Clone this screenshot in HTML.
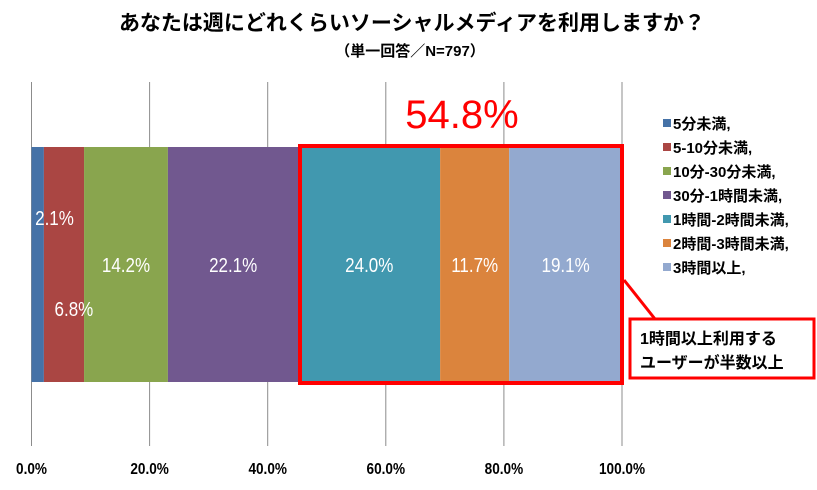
<!DOCTYPE html>
<html><head><meta charset="utf-8"><style>
body{margin:0;background:#fff;width:817px;height:485px;overflow:hidden;font-family:"Liberation Sans","Noto Sans CJK JP",sans-serif}
</style></head><body>
<svg width="817" height="485" font-family="Liberation Sans, Noto Sans CJK JP, sans-serif">
<text x="412" y="30" text-anchor="middle" font-size="21" font-weight="bold">あなたは週にどれくらいソーシャルメディアを利用しますか？</text>
<text x="410" y="56" text-anchor="middle" font-size="15" font-weight="bold">（単一回答／N=797）</text>
<g id="grid"></g><g id="bars"></g><g id="labels"></g><g id="ticks"></g><g id="legend"></g>
<text x="462" y="128" text-anchor="middle" font-size="40" fill="#ff0000">54.8%</text>
<rect x="300" y="146" width="322" height="237" fill="none" stroke="#ff0000" stroke-width="4"/>
<line x1="624" y1="280" x2="655" y2="319" stroke="#ff0000" stroke-width="3"/>
<rect x="630" y="319" width="184" height="59" fill="#fff" stroke="#ff0000" stroke-width="3"/>
<text x="640" y="344" font-size="16" font-weight="bold">1時間以上利用する</text>
<text x="640" y="368" font-size="16" font-weight="bold">ユーザーが半数以上</text>
</svg>
<script>
const categories=["5分未満,","5-10分未満,","10分-30分未満,","30分-1時間未満,","1時間-2時間未満,","2時間-3時間未満,","3時間以上,"];
const values=[2.1,6.8,14.2,22.1,24.0,11.7,19.1];
const ticks=[0,20,40,60,80,100];
const colors=["#4572a7","#aa4643","#89a54e","#71588f","#4198af","#db843d","#93a9cf"];
const ns="http://www.w3.org/2000/svg";
const X0=31.5,X1=622,Y0=147,Y1=382;
const sx=v=>X0+(X1-X0)*v/100;
function mk(t,a,p){const e=document.createElementNS(ns,t);for(const k in a)e.setAttribute(k,a[k]);document.getElementById(p).appendChild(e);return e;}
ticks.forEach(t=>{
 const g=mk('line',{x1:sx(t),x2:sx(t),y1:82,y2:446,stroke:'#8c8c8c','stroke-width':1},'grid');
 
 
 const l=mk('text',{x:0,y:0,'text-anchor':'middle','font-size':16,'font-weight':'bold',transform:`translate(${sx(t)},474) scale(0.85,1)`},'ticks');
 l.textContent=t.toFixed(1)+'%';
 
 
});
let acc=0;
values.forEach((v,i)=>{
 const r=mk('rect',{x:sx(acc),y:Y0,width:sx(acc+v)-sx(acc),height:Y1-Y0,fill:colors[i]},'bars');
 
 
 let cx=sx(acc+v/2),cy=272;
 if(i===0){cx=sx(acc)+23;cy=225;} if(i===1){cx=sx(acc)+30;cy=316;}
 const t=mk('text',{x:0,y:0,'text-anchor':'middle','font-size':20,fill:'#fff',transform:`translate(${cx},${cy}) scale(0.85,1)`},'labels');
 t.textContent=v.toFixed(1)+'%';
 
 
 acc+=v;
});
categories.forEach((c,i)=>{
 const y=123+i*24;
 const s=mk('rect',{x:663,y:y-4,width:8,height:8,fill:colors[i]},'legend');
 
 
 const t=mk('text',{x:673,y:y+6,'font-size':15,'font-weight':'bold'},'legend');
 t.textContent=c;
 
 
});
</script>
</body></html>
